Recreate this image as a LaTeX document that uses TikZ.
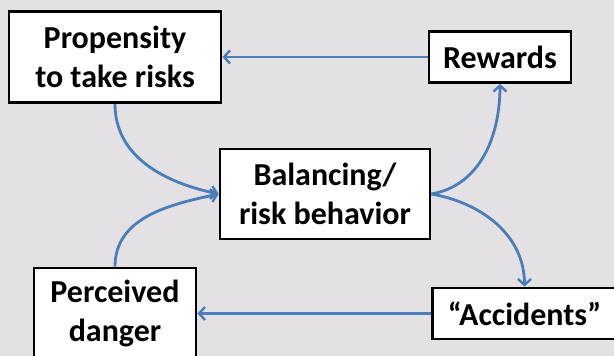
\documentclass[tikz,border=0pt]{standalone}
\usepackage{fontspec}
\setmainfont{Carlito}
\usetikzlibrary{arrows.meta}
\definecolor{bg}{HTML}{E3E1E3}
\definecolor{arrowblue}{HTML}{4A7EBB}
\tikzset{
  box/.style={draw=black, line width=2.8pt, fill=white, rectangle, inner sep=0pt,
    align=center, font=\fontsize{32}{39}\selectfont\bfseries},
  link/.style={draw=arrowblue, line width=2.8pt,
    -{Straight Barb[length=6pt,width=13pt,line width=2.4pt]}}
}
\begin{document}
\begin{tikzpicture}[x=1pt,y=-1pt]
\clip (0,0) rectangle (614,356);
\fill[bg] (0,0) rectangle (614,356);
\node[box, minimum width=212pt, minimum height=91pt] (prop) at (115,57) {Propensity\\to take risks};
\node[box, minimum width=142pt, minimum height=51pt] (rew) at (500,57) {Rewards};
\node[box, minimum width=210pt, minimum height=90pt] (bal) at (325,194) {Balancing/\\risk behavior};
\node[box, minimum width=162pt, minimum height=91pt] (perc) at (115,313.5) {Perceived\\danger};
\node[box, minimum width=184pt, minimum height=51pt] (acc) at (524.5,313.5) {“Accidents”};
\draw[link] (rew.west) -- (prop.east);
\draw[link] (acc.west) -- (perc.east);
\draw[link] (prop.south) to[out=-90,in=168] (bal.west);
\draw[link] (perc.north) to[out=90,in=192] (bal.west);
\draw[link] (bal.east) to[out=10,in=-90] (rew.south);
\draw[link] (bal.east) to[out=-10,in=90] (acc.north);
\end{tikzpicture}
\end{document}
